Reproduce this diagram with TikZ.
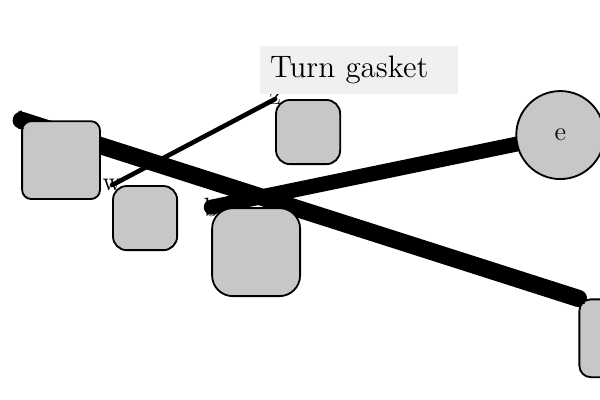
\documentclass[tikz,border=0pt]{standalone}
\usetikzlibrary{backgrounds, positioning}
\tikzstyle{part}=[draw, thick, fill=black!22, rounded corners=5pt, minimum size=1.19cm, inner sep=0pt, font=\fontsize{11.5}{13}\selectfont]
\tikzstyle{tag}=[inner sep=0pt, font=\fontsize{11.5}{13}\selectfont]
\tikzstyle{link}=[line cap=round]

\begin{document}
\begin{tikzpicture}
  \useasboundingbox (0,0) rectangle (9.17,-6.11);
  \node[part, rounded corners=4pt]                        (lbox) at (0.933,-2.447) {};
  \node[part, minimum size=0.98cm, rounded corners=6pt]   (wbox) at (2.217,-3.333) {};
  \node[part, minimum size=1.345cm, rounded corners=9pt]  (bbox) at (3.914,-3.853) {};
  \node[part, minimum size=0.98cm, rounded corners=6pt]   (zbox) at (4.709,-2.018) {};
  \node[part, rounded corners=5pt]                        (nbox) at (9.45,-5.17) {};
  \node[part, circle, minimum size=1.345cm]               (e)    at (8.563,-2.064) {e};

  \node[tag] (l) at (lbox.north west) {l};
  \node[tag] (w) at (wbox.north west) {w};
  \node[tag] (b) at (bbox.north west) {b};
  \node[tag] (z) at (zbox.north west) {z};
  \node[tag] (n) at (nbox.north west) {n};

  \node[fill=black!6, font=\fontsize{13.5}{16}\selectfont, text width=2.72cm, align=left,
        inner sep=4.35pt, minimum height=0.61cm] (title) at (5.489,-1.07) {Turn gasket};

  \begin{scope}[on background layer]
    \draw[link, line width=7.5pt] (l.center) -- (n.center);
    \draw[link, line width=6.5pt] (b.center) -- (e.center);
    \draw[link, line width=2pt]   (w.center) -- (z.center);
  \end{scope}
\end{tikzpicture}
\end{document}
